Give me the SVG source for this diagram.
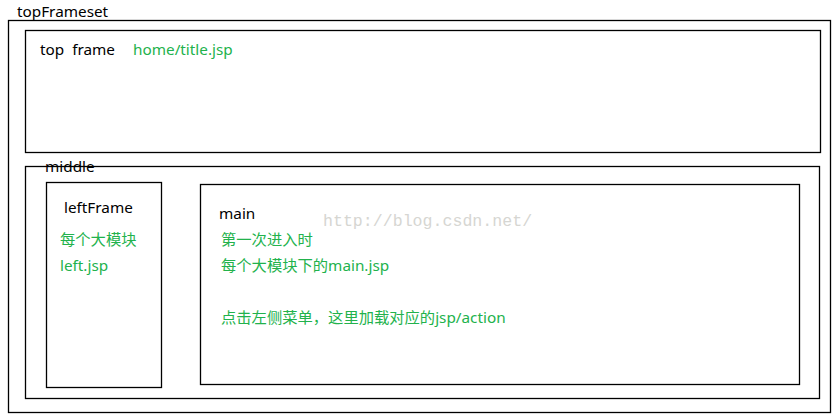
<svg xmlns="http://www.w3.org/2000/svg" width="836" height="420" viewBox="0 0 836 420">
<style>
.box{fill:none;stroke:#000;stroke-width:1.3}
.t{font-family:"Noto Sans","Noto Sans CJK SC",sans-serif;font-size:15.3px;fill:#000}
.g{font-family:"Noto Sans","Noto Sans CJK SC",sans-serif;font-size:15.3px;fill:#22b24c}
.wm{font-family:"Liberation Mono",monospace;font-size:16.6px;fill:#d6d6d2}
</style>
<rect width="836" height="420" fill="#fff"/>
<g id="topFrameset">
<rect class="box" x="8.5" y="20.5" width="822" height="392"/>
<text class="t" x="17" y="17">topFrameset</text>
</g>
<g id="topFrame">
<rect class="box" x="25.5" y="30.5" width="795" height="122"/>
<text class="t" x="40" y="55" xml:space="preserve">top  frame</text>
<text class="g" x="133" y="55">home/title.jsp</text>
</g>
<g id="middle">
<rect class="box" x="25.5" y="166.5" width="794" height="232"/>
<text class="t" x="45" y="172">middle</text>
</g>
<g id="leftFrame">
<rect class="box" x="46.5" y="182.5" width="115" height="205"/>
<text class="t" x="64" y="213">leftFrame</text>
<text class="g" x="60" y="245">每个大模块</text>
<text class="g" x="60" y="271">left.jsp</text>
</g>
<g id="main">
<rect class="box" x="200.5" y="184.5" width="599" height="200"/>
<text class="t" x="219" y="219">main</text>
<text class="g" x="221" y="245">第一次进入时</text>
<text class="g" x="221" y="271">每个大模块下的main.jsp</text>
<text class="g" x="221" y="323">点击左侧菜单，这里加载对应的jsp/action</text>
</g>
<text class="wm" x="323" y="226">http://blog.csdn.net/</text>
<g id="connectors"/>
</svg>
